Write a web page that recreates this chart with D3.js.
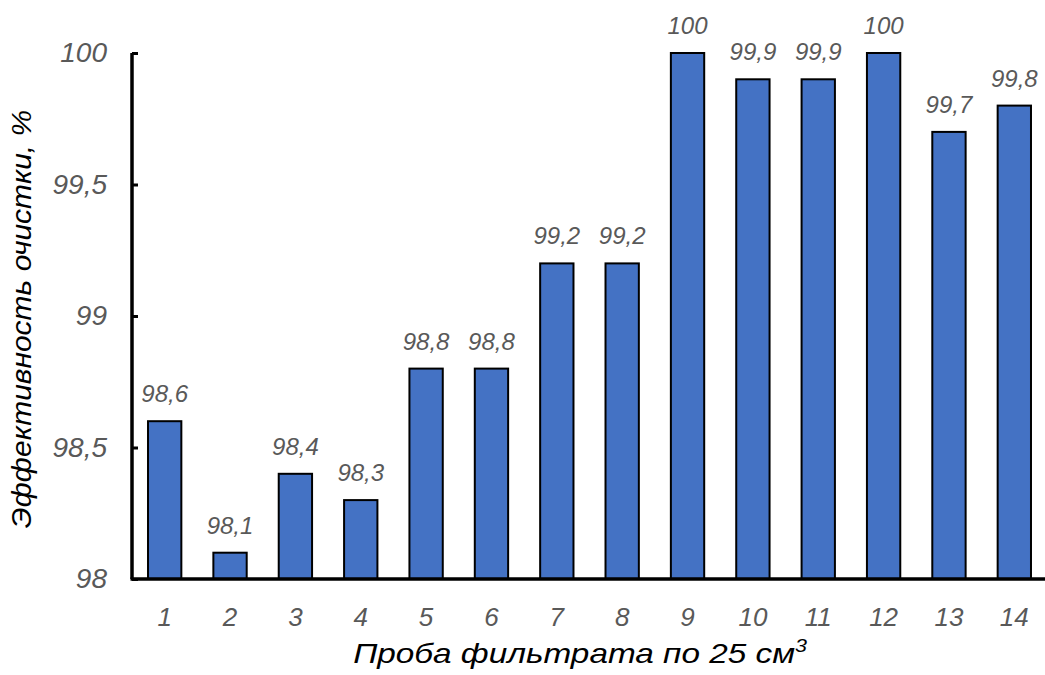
<!DOCTYPE html>
<html>
<head>
<meta charset="utf-8">
<script src="https://cdn.jsdelivr.net/npm/d3@7"></script>
<style>
  html, body { margin: 0; padding: 0; background: #fff; }
  svg { display: block; font-family: "Liberation Sans", Arial, sans-serif; }
</style>
</head>
<body>
<svg id="chart" width="1045" height="675"></svg>
<script>
// Filtrate samples and their cleaning efficiency, %
const samples = ["1","2","3","4","5","6","7","8","9","10","11","12","13","14"];
const efficiency = [98.6, 98.1, 98.4, 98.3, 98.8, 98.8, 99.2, 99.2, 100, 99.9, 99.9, 100, 99.7, 99.8];
const yTicks = [98, 98.5, 99, 99.5, 100];

const svg = d3.select("#chart");
const plotLeft = 132, plotRight = 1047, plotTop = 53, plotBottom = 579;

const x = d3.scaleBand().domain(samples).range([plotLeft, plotRight]).paddingInner(0.49).paddingOuter(0.245);
const y = d3.scaleLinear().domain([98, 100]).range([plotBottom, plotTop]);

const fmt = v => String(v).replace(".", ",");
const grey = "#595959";

// bars
svg.append("g").selectAll("rect").data(samples).join("rect")
  .attr("x", d => x(d))
  .attr("y", (d, i) => y(efficiency[i]))
  .attr("width", x.bandwidth())
  .attr("height", (d, i) => y(98) - y(efficiency[i]))
  .attr("fill", "#4472C4")
  .attr("stroke", "#000")
  .attr("stroke-width", 2);

// value labels
svg.append("g").selectAll("text").data(samples).join("text")
  .attr("x", d => x(d) + x.bandwidth() / 2)
  .attr("y", (d, i) => y(efficiency[i]) - 19)
  .attr("text-anchor", "middle")
  .attr("font-size", 24)
  .attr("font-style", "italic")
  .attr("fill", grey)
  .text((d, i) => fmt(efficiency[i]));

// y axis with inner ticks
const yAxis = svg.append("g").attr("transform", `translate(${plotLeft},0)`)
  .call(d3.axisLeft(y).tickValues(yTicks).tickSize(-6).tickPadding(25).tickFormat(fmt));
yAxis.select(".domain").attr("stroke", "#000").attr("stroke-width", 3.5)
  .attr("d", `M0,${plotTop}V${plotBottom}`);
yAxis.selectAll(".tick line").attr("stroke", "#000").attr("stroke-width", 3);
yAxis.selectAll(".tick text").attr("font-size", 28).attr("font-style", "italic")
  .attr("fill", grey).attr("font-family", "Liberation Sans, Arial, sans-serif");

// x axis
const xAxis = svg.append("g").attr("transform", `translate(0,${plotBottom})`)
  .call(d3.axisBottom(x).tickSize(0).tickPadding(29));
xAxis.select(".domain").attr("stroke", "#000").attr("stroke-width", 3.5)
  .attr("d", `M${plotLeft - 1.5},0H${plotRight}`);
xAxis.selectAll(".tick text").attr("font-size", 26).attr("font-style", "italic")
  .attr("fill", grey).attr("font-family", "Liberation Sans, Arial, sans-serif");

// axis titles (wide-set lettering)
const xt = svg.append("text")
  .attr("transform", "translate(580,663) scale(1.19,1)")
  .attr("text-anchor", "middle")
  .attr("font-size", 28).attr("font-style", "italic").attr("fill", "#000");
xt.append("tspan").text("Проба фильтрата по 25 см");
xt.append("tspan").attr("font-size", 18).attr("dy", -11).text("3");

svg.append("text")
  .attr("transform", "translate(31,319) rotate(-90) scale(1.11,1)")
  .attr("text-anchor", "middle")
  .attr("font-size", 27).attr("font-style", "italic").attr("fill", "#000")
  .text("Эффективность очистки, %");
</script>
</body>
</html>
